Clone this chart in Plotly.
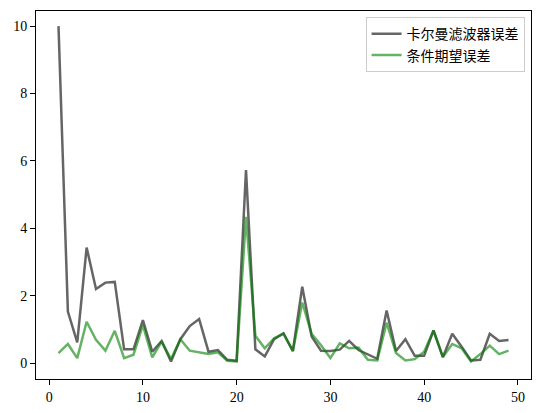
import plotly.graph_objects as go

steps = list(range(1, 50))
kalman_err = [10.0, 1.53, 0.62, 3.43, 2.2, 2.39, 2.41, 0.41, 0.41, 1.28,
              0.34, 0.66, 0.05, 0.71, 1.1, 1.31, 0.34, 0.39, 0.1, 0.07,
              5.73, 0.41, 0.2, 0.71, 0.89, 0.36, 2.27, 0.79, 0.37, 0.36,
              0.4, 0.66, 0.39, 0.25, 0.13, 1.56, 0.36, 0.71, 0.22, 0.22,
              0.97, 0.18, 0.87, 0.49, 0.08, 0.1, 0.87, 0.66, 0.69]
cond_exp_err = [0.3, 0.57, 0.15, 1.23, 0.69, 0.37, 0.96, 0.15, 0.25, 1.13,
                0.17, 0.64, 0.12, 0.71, 0.37, 0.31, 0.27, 0.32, 0.07, 0.05,
                4.34, 0.81, 0.44, 0.74, 0.87, 0.36, 1.8, 0.87, 0.53, 0.15,
                0.59, 0.44, 0.46, 0.1, 0.08, 1.2, 0.3, 0.08, 0.12, 0.34,
                0.97, 0.18, 0.57, 0.44, 0.05, 0.27, 0.52, 0.27, 0.37]

fig = go.Figure()
fig.add_trace(go.Scatter(x=steps, y=kalman_err, mode='lines', name='卡尔曼滤波器误差',
                         line=dict(color='black', width=2.5), opacity=0.6))
fig.add_trace(go.Scatter(x=steps, y=cond_exp_err, mode='lines', name='条件期望误差',
                         line=dict(color='rgb(0,128,0)', width=2.5), opacity=0.6))

axis_style = dict(showline=True, mirror=True, linecolor='black', linewidth=1,
                  ticks='outside', ticklen=5, tickcolor='black', showgrid=False,
                  zeroline=False, automargin=False,
                  tickfont=dict(family='Liberation Serif', size=14, color='black'))
fig.update_xaxes(range=[-1.4, 51.4], tickvals=[0, 10, 20, 30, 40, 50], **axis_style)
fig.update_yaxes(range=[-0.47, 10.45], tickvals=[0, 2, 4, 6, 8, 10], **axis_style)

# page body has an 8px margin, so the figure is a bit smaller than the window
fig.update_layout(
    width=532, height=405,
    margin=dict(l=28, r=9, t=3, b=34),
    plot_bgcolor='white', paper_bgcolor='white',
    legend=dict(x=0.987, y=0.983, xanchor='right', yanchor='top',
                bgcolor='rgba(255,255,255,0.8)', bordercolor='#cccccc', borderwidth=1,
                font=dict(family='Noto Sans CJK SC', size=14, color='black'),
                tracegroupgap=0),
)
fig.write_html("out.html")
